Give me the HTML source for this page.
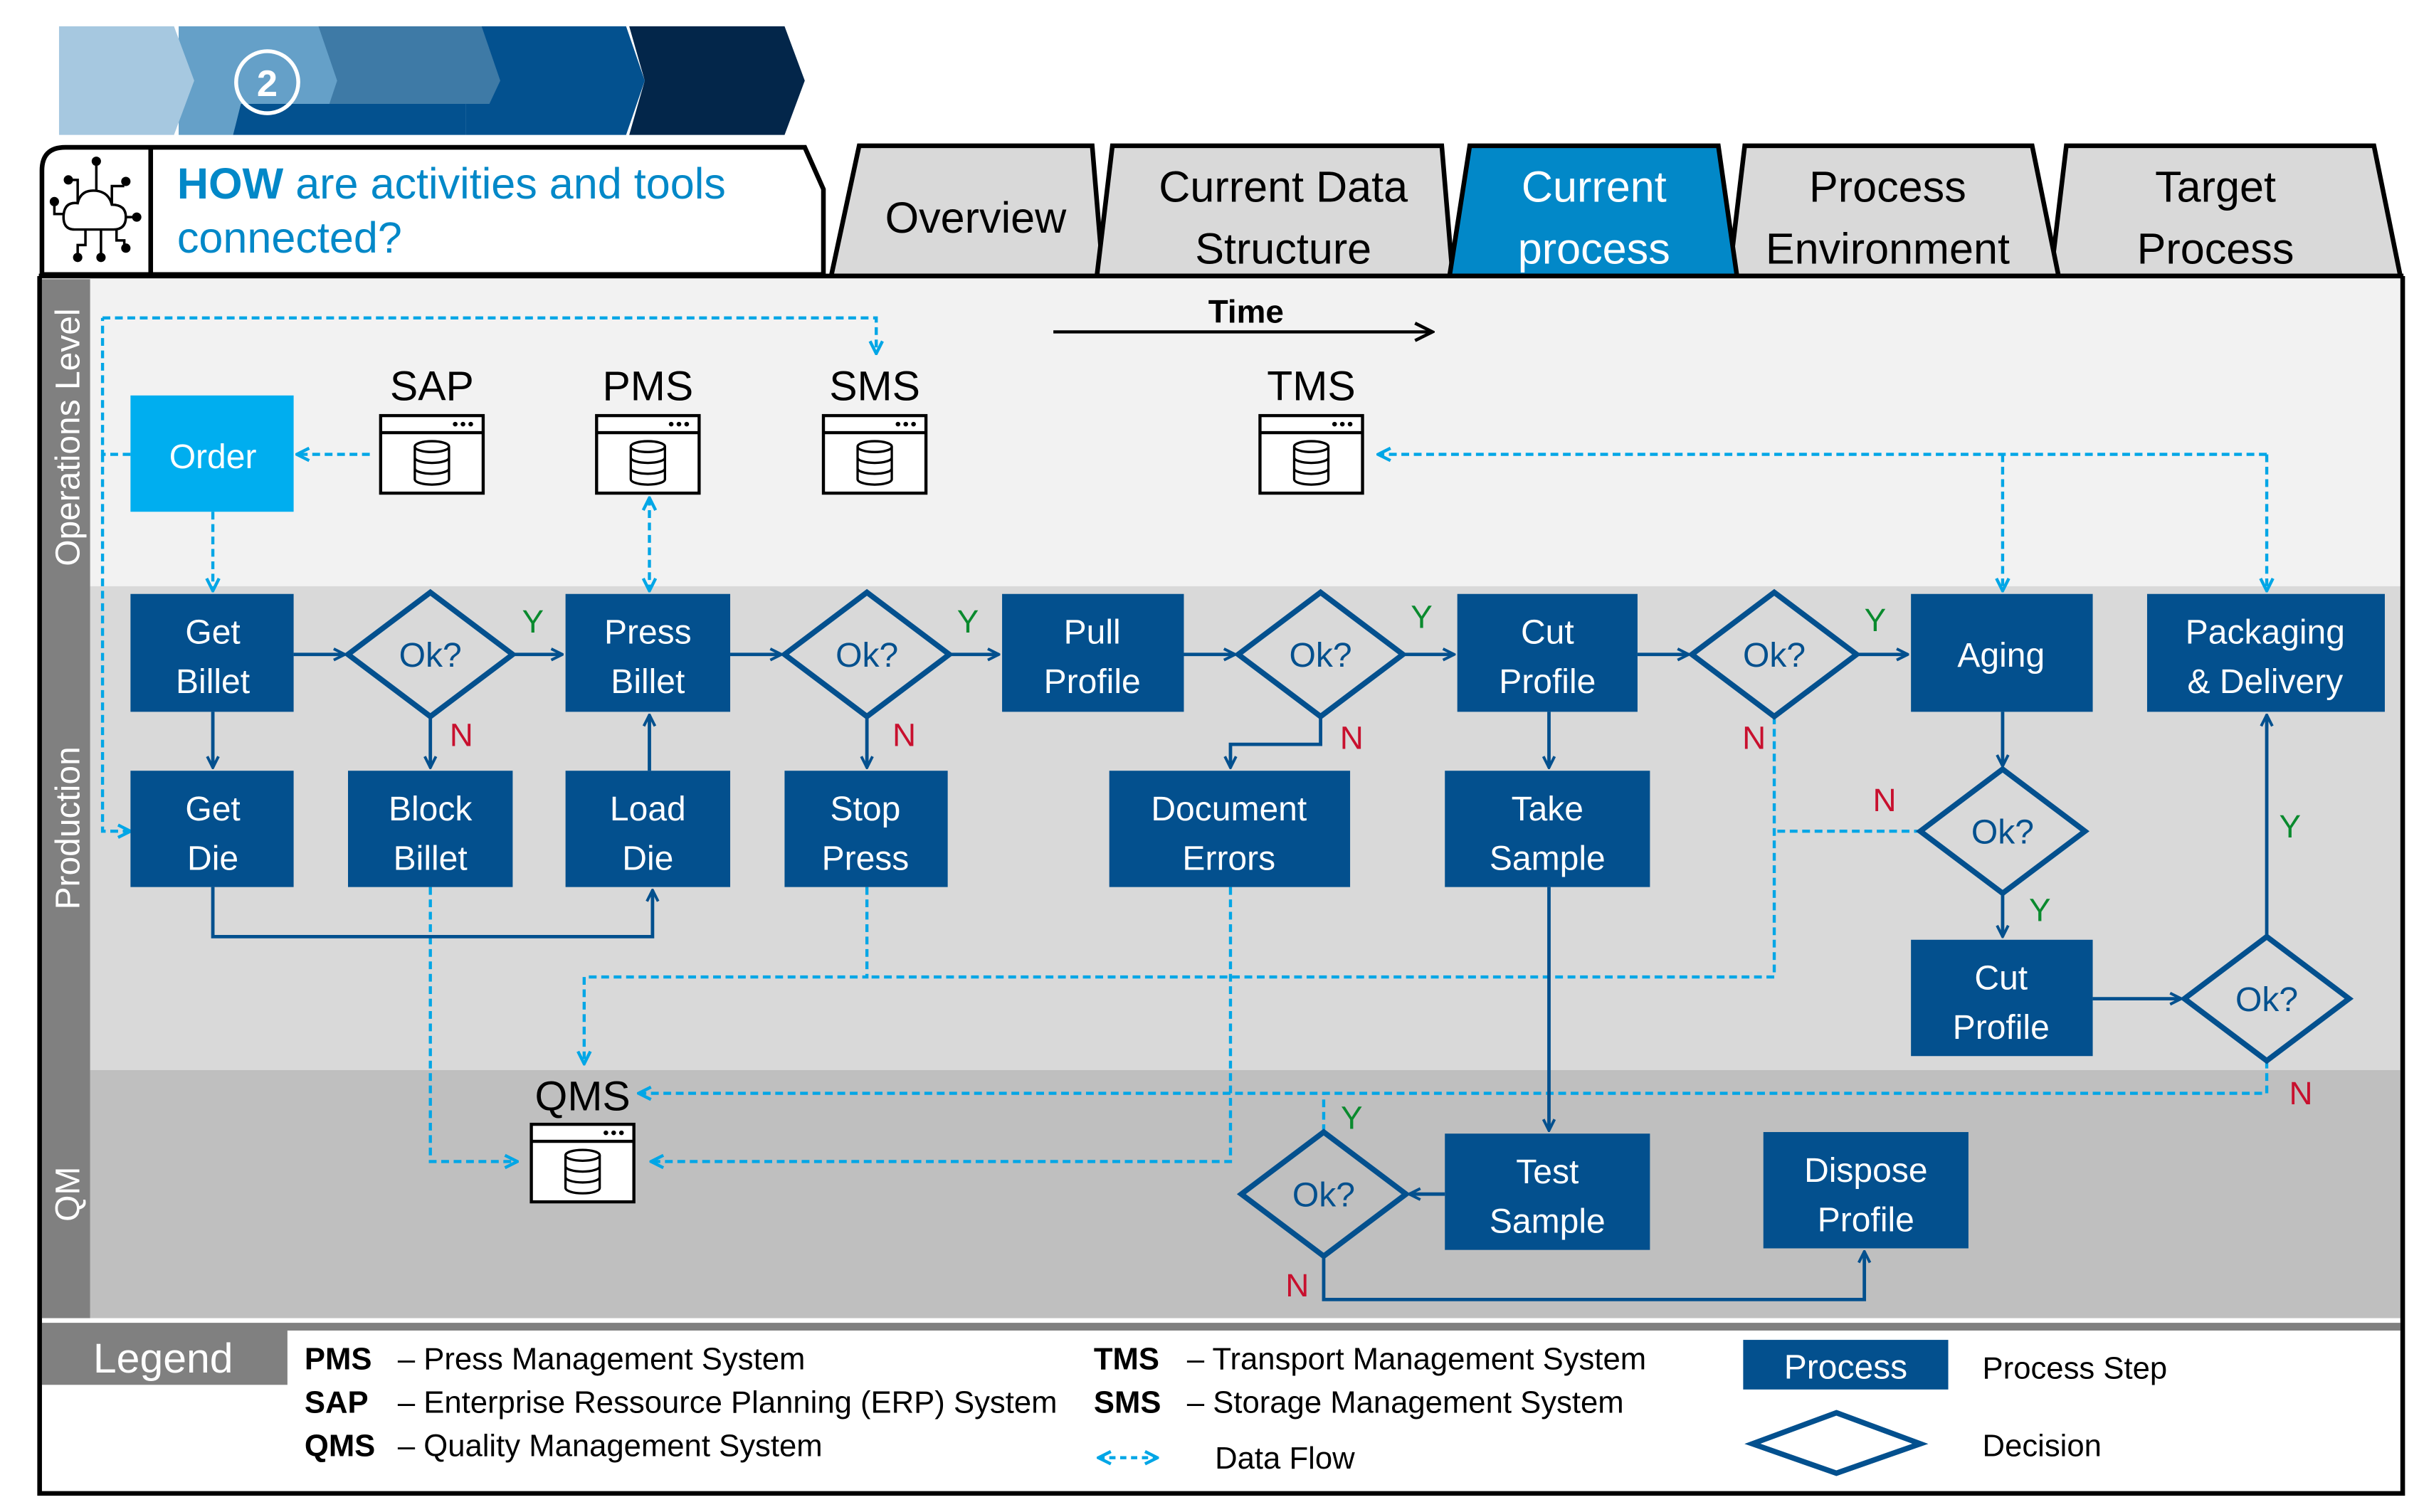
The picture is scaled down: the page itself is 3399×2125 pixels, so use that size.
<!DOCTYPE html>
<html><head><meta charset="utf-8"><style>html,body{margin:0;padding:0;background:#fff}svg{display:block}text{font-family:"Liberation Sans",Arial,sans-serif}</style></head><body>
<svg width="3399" height="2125" viewBox="0 0 1557 975" preserveAspectRatio="none" xmlns="http://www.w3.org/2000/svg">
<defs>
<marker id="ab" viewBox="0 0 10 10" refX="9" refY="5" markerWidth="9" markerHeight="9" orient="auto-start-reverse" markerUnits="userSpaceOnUse"><path d="M1,1 L9,5 L1,9" fill="none" stroke="#03508E" stroke-width="2"/></marker>
<marker id="ac" viewBox="0 0 10 10" refX="9" refY="5" markerWidth="10" markerHeight="10" orient="auto-start-reverse" markerUnits="userSpaceOnUse"><path d="M1,1 L9,5 L1,9" fill="none" stroke="#00A6E6" stroke-width="2"/></marker>
<marker id="ak" viewBox="0 0 10 10" refX="9" refY="5" markerWidth="14" markerHeight="14" orient="auto" markerUnits="userSpaceOnUse"><path d="M1,1 L9,5 L1,9" fill="none" stroke="#000" stroke-width="1.5"/></marker>
<g id="db"><rect x="0" y="0" width="66" height="50" fill="#fff" stroke="#000" stroke-width="2"/><line x1="0" y1="11" x2="66" y2="11" stroke="#000" stroke-width="2"/><circle cx="48" cy="5.5" r="1.5"/><circle cx="53" cy="5.5" r="1.5"/><circle cx="58" cy="5.5" r="1.5"/><g fill="none" stroke="#000" stroke-width="1.5"><ellipse cx="33" cy="20" rx="11" ry="3.5"/><path d="M22,20 V41 A11,3.5 0 0 0 44,41 V20 M22,27 A11,3.5 0 0 0 44,27 M22,34 A11,3.5 0 0 0 44,34"/></g></g>
</defs>
<!-- banner -->
<polygon points="405,17 505,17 518,52 505,87 405,87 415,52" fill="#03264A"/>
<polygon points="300,17 403,17 415,52 403,87 300,87" fill="#03518F"/>
<polygon points="200,17 310,17 322,52 315,67 200,67" fill="#3E7AA6"/>
<polygon points="115,17 205,17 217,52 212,67 155,67 150,87 115,87" fill="#65A0C8"/>
<polygon points="38,17 112,17 125,52 112,87 38,87" fill="#A6C8E0"/>
<polygon points="155,67 300,67 300,87 150,87" fill="#03518F"/>
<ellipse cx="172" cy="53" rx="20" ry="20" fill="none" stroke="#fff" stroke-width="2.5"/>
<text x="172" y="62" font-size="24" font-weight="bold" fill="#fff" text-anchor="middle">2</text>
<!-- header box -->
<path d="M27,177 V110 Q27,95 42,95 H518 L530,122 V177 Z" fill="#fff" stroke="#000" stroke-width="3"/>
<line x1="97" y1="95" x2="97" y2="177" stroke="#000" stroke-width="3"/>
<g fill="none" stroke="#000" stroke-width="1.6"><path d="M48,148 Q40,148 41,138 Q42,130 50,131 Q52,122 62,123 Q70,124 72,132 Q81,132 81,140 Q81,148 73,148 Z"/><path d="M62,123 V104 M50,131 V116 H44 M72,132 V120 H80 M41,138 H35 V130 M81,140 H88 M55,148 V158 H50 V165 M65,148 V165 M75,148 V155 H80 V160"/></g>
<g fill="#000"><circle cx="62" cy="104" r="3"/><circle cx="44" cy="116" r="3"/><circle cx="81" cy="117" r="3"/><circle cx="35" cy="130" r="3"/><circle cx="88" cy="140" r="3"/><circle cx="50" cy="166" r="3"/><circle cx="65" cy="166" r="3"/><circle cx="81" cy="160" r="3"/></g>
<text x="114" y="128" font-size="28" fill="#0288C8"><tspan font-weight="bold">HOW</tspan> are activities and tools</text>
<text x="114" y="163" font-size="28" fill="#0288C8">connected?</text>
<!-- tabs -->
<g stroke="#000" stroke-width="3">
<polygon points="535,178 553,94 703,94 710,178" fill="#D9D9D9"/>
<polygon points="1320,178 1330,94 1528,94 1545,178" fill="#D9D9D9"/>
<polygon points="1113,178 1123,94 1308,94 1325,178" fill="#D9D9D9"/>
<polygon points="706,178 716,94 928,94 935,178" fill="#D9D9D9"/>
<polygon points="933,178 946,94 1106,94 1118,178" fill="#0288C8"/>
</g>
<text x="628" y="150" font-size="28" text-anchor="middle">Overview</text>
<text x="826" y="130" font-size="28" text-anchor="middle">Current Data</text>
<text x="826" y="170" font-size="28" text-anchor="middle">Structure</text>
<text x="1026" y="130" font-size="28" text-anchor="middle" fill="#fff">Current</text>
<text x="1026" y="170" font-size="28" text-anchor="middle" fill="#fff">process</text>
<text x="1215" y="130" font-size="28" text-anchor="middle">Process</text>
<text x="1215" y="170" font-size="28" text-anchor="middle">Environment</text>
<text x="1426" y="130" font-size="28" text-anchor="middle">Target</text>
<text x="1426" y="170" font-size="28" text-anchor="middle">Process</text>
<!-- main frame -->
<rect x="27" y="178" width="1518" height="784" fill="#fff"/>
<rect x="58" y="180" width="1487" height="198" fill="#F2F2F2"/>
<rect x="58" y="378" width="1487" height="312" fill="#D9D9D9"/>
<rect x="58" y="690" width="1487" height="160" fill="#BFBFBF"/>
<rect x="27" y="180" width="31" height="670" fill="#808080"/>
<text transform="translate(51,282) rotate(-90)" font-size="22" fill="#fff" text-anchor="middle">Operations Level</text>
<text transform="translate(51,534) rotate(-90)" font-size="22" fill="#fff" text-anchor="middle">Production</text>
<text transform="translate(51,770) rotate(-90)" font-size="22" fill="#fff" text-anchor="middle">QM</text>
<rect x="27" y="853" width="1518" height="5" fill="#808080"/>
<rect x="27" y="855" width="158" height="38" fill="#808080"/>
<text x="105" y="885" font-size="27" fill="#fff" text-anchor="middle">Legend</text>
<path d="M25.5,178 V963 H1546.5 V178" fill="none" stroke="#000" stroke-width="3"/>
<line x1="25" y1="178" x2="1547" y2="178" stroke="#000" stroke-width="3"/>
<!-- time -->
<text x="802" y="208" font-size="21" font-weight="bold" text-anchor="middle">Time</text>
<line x1="678" y1="214" x2="922" y2="214" stroke="#000" stroke-width="2" marker-end="url(#ak)"/>
<!-- dbs -->
<g font-size="27" text-anchor="middle"><text x="278" y="258">SAP</text><text x="417" y="258">PMS</text><text x="563" y="258">SMS</text><text x="844" y="258">TMS</text><text x="375" y="716">QMS</text></g>
<use href="#db" x="245" y="268"/><use href="#db" x="384" y="268"/><use href="#db" x="530" y="268"/><use href="#db" x="811" y="268"/><use href="#db" x="342" y="725"/>
<!-- dashed -->
<g fill="none" stroke="#00A6E6" stroke-width="2" stroke-dasharray="5,3">
<path d="M66,205 H564 V228" marker-end="url(#ac)"/>
<path d="M84,293 H66 V205"/>
<path d="M66,293 V536 H84" marker-end="url(#ac)"/>
<path d="M238,293 H191" marker-end="url(#ac)"/>
<path d="M137,330 V381" marker-end="url(#ac)"/>
<path d="M418,321 V381" marker-start="url(#ac)" marker-end="url(#ac)"/>
<path d="M1459,293 H887" marker-end="url(#ac)"/>
<path d="M1289,293 V381" marker-end="url(#ac)"/>
<path d="M1459,293 V381" marker-end="url(#ac)"/>
<path d="M277,572 V749 H333" marker-end="url(#ac)"/>
<path d="M558,572 V630 H376 V686" marker-end="url(#ac)"/>
<path d="M1142,462 V630 H558"/>
<path d="M1237,536 H1142"/>
<path d="M792,572 V749 H419" marker-end="url(#ac)"/>
<path d="M1459,684 V705 H411" marker-end="url(#ac)"/>
<path d="M852,730 V705"/>
</g>
<!-- solid connectors -->
<g fill="none" stroke="#03508E" stroke-width="2.2">
<path d="M189,422 H222" marker-end="url(#ab)"/><path d="M330,422 H362" marker-end="url(#ab)"/>
<path d="M470,422 H503" marker-end="url(#ab)"/><path d="M610,422 H643" marker-end="url(#ab)"/>
<path d="M762,422 H795" marker-end="url(#ab)"/><path d="M903,422 H936" marker-end="url(#ab)"/>
<path d="M1054,422 H1087" marker-end="url(#ab)"/><path d="M1195,422 H1228" marker-end="url(#ab)"/>
<path d="M137,459 V495" marker-end="url(#ab)"/><path d="M277,462 V495" marker-end="url(#ab)"/>
<path d="M418,497 V461" marker-end="url(#ab)"/><path d="M558,462 V495" marker-end="url(#ab)"/>
<path d="M137,572 V604 H420 V574" marker-end="url(#ab)"/>
<path d="M850,462 V480 H792 V495" marker-end="url(#ab)"/>
<path d="M997,459 V495" marker-end="url(#ab)"/><path d="M997,572 V729" marker-end="url(#ab)"/>
<path d="M1289,459 V494" marker-end="url(#ab)"/><path d="M1289,576 V604" marker-end="url(#ab)"/>
<path d="M1347,644 H1404" marker-end="url(#ab)"/><path d="M1459,604 V461" marker-end="url(#ab)"/>
<path d="M930,770 H907" marker-end="url(#ab)"/>
<path d="M852,810 V838 H1200 V807" marker-end="url(#ab)"/>
</g>
<!-- boxes -->
<rect x="84" y="255" width="105" height="75" fill="#00AEEF"/>
<text x="137" y="302" font-size="22" fill="#fff" text-anchor="middle">Order</text>
<g fill="#03508E">
<rect x="84" y="383" width="105" height="76"/><rect x="364" y="383" width="106" height="76"/><rect x="645" y="383" width="117" height="76"/><rect x="938" y="383" width="116" height="76"/><rect x="1230" y="383" width="117" height="76"/><rect x="1382" y="383" width="153" height="76"/>
<rect x="84" y="497" width="105" height="75"/><rect x="224" y="497" width="106" height="75"/><rect x="364" y="497" width="106" height="75"/><rect x="505" y="497" width="105" height="75"/><rect x="714" y="497" width="155" height="75"/><rect x="930" y="497" width="132" height="75"/>
<rect x="1230" y="606" width="117" height="75"/><rect x="930" y="731" width="132" height="75"/><rect x="1135" y="730" width="132" height="75"/>
</g>
<g font-size="22" fill="#fff" text-anchor="middle">
<text x="137" y="415">Get</text><text x="137" y="447">Billet</text>
<text x="417" y="415">Press</text><text x="417" y="447">Billet</text>
<text x="703" y="415">Pull</text><text x="703" y="447">Profile</text>
<text x="996" y="415">Cut</text><text x="996" y="447">Profile</text>
<text x="1288" y="430">Aging</text>
<text x="1458" y="415">Packaging</text><text x="1458" y="447">&amp; Delivery</text>
<text x="137" y="529">Get</text><text x="137" y="561">Die</text>
<text x="277" y="529">Block</text><text x="277" y="561">Billet</text>
<text x="417" y="529">Load</text><text x="417" y="561">Die</text>
<text x="557" y="529">Stop</text><text x="557" y="561">Press</text>
<text x="791" y="529">Document</text><text x="791" y="561">Errors</text>
<text x="996" y="529">Take</text><text x="996" y="561">Sample</text>
<text x="1288" y="638">Cut</text><text x="1288" y="670">Profile</text>
<text x="996" y="763">Test</text><text x="996" y="795">Sample</text>
<text x="1201" y="762">Dispose</text><text x="1201" y="794">Profile</text>
</g>
<!-- diamonds -->
<g fill="none" stroke="#03508E" stroke-width="3.5">
<polygon points="277,382 330,422 277,462 224,422"/><polygon points="558,382 611,422 558,462 505,422"/><polygon points="850,382 903,422 850,462 797,422"/><polygon points="1142,382 1195,422 1142,462 1089,422"/><polygon points="1289,496 1342,536 1289,576 1236,536"/><polygon points="1459,604 1512,644 1459,684 1406,644"/><polygon points="852,730 905,770 852,810 799,770"/>
</g>
<g font-size="22" fill="#03508E" text-anchor="middle">
<text x="277" y="430">Ok?</text><text x="558" y="430">Ok?</text><text x="850" y="430">Ok?</text><text x="1142" y="430">Ok?</text><text x="1289" y="544">Ok?</text><text x="1459" y="652">Ok?</text><text x="852" y="778">Ok?</text>
</g>
<g font-size="21" fill="#0A8A2E" text-anchor="middle"><text x="343" y="408">Y</text><text x="623" y="408">Y</text><text x="915" y="405">Y</text><text x="1207" y="407">Y</text><text x="1313" y="594">Y</text><text x="1474" y="540">Y</text><text x="870" y="728">Y</text></g>
<g font-size="21" fill="#C8102E" text-anchor="middle"><text x="297" y="481">N</text><text x="582" y="481">N</text><text x="870" y="483">N</text><text x="1129" y="483">N</text><text x="1213" y="523">N</text><text x="1481" y="712">N</text><text x="835" y="836">N</text></g>
<!-- legend -->
<g font-size="20">
<text x="196" y="883" font-weight="bold">PMS</text><text x="256" y="883">– Press Management System</text>
<text x="196" y="911" font-weight="bold">SAP</text><text x="256" y="911">– Enterprise Ressource Planning (ERP) System</text>
<text x="196" y="939" font-weight="bold">QMS</text><text x="256" y="939">– Quality Management System</text>
<text x="704" y="883" font-weight="bold">TMS</text><text x="764" y="883">– Transport Management System</text>
<text x="704" y="911" font-weight="bold">SMS</text><text x="764" y="911">– Storage Management System</text>
<text x="782" y="947">Data Flow</text>
<text x="1276" y="889">Process Step</text>
<text x="1276" y="939">Decision</text>
</g>
<path d="M707,940 H745" stroke="#00A6E6" stroke-width="2" stroke-dasharray="4,3" marker-start="url(#ac)" marker-end="url(#ac)"/>
<rect x="1122" y="864" width="132" height="32" fill="#03508E"/>
<text x="1188" y="889" font-size="22" fill="#fff" text-anchor="middle">Process</text>
<polygon points="1182,911 1236,931 1182,950 1128,931" fill="none" stroke="#03508E" stroke-width="3.5"/>
</svg>
</body></html>
